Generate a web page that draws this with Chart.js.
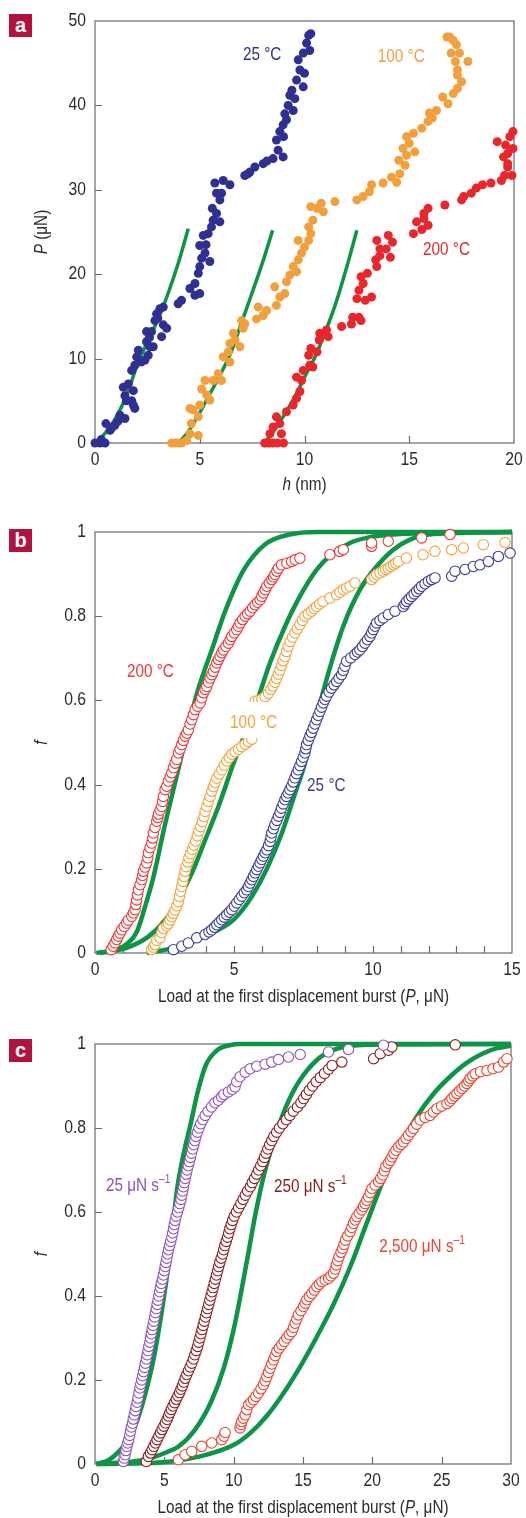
<!DOCTYPE html>
<html>
<head>
<meta charset="utf-8">
<script src="https://cdn.jsdelivr.net/npm/chart.js@4.4.0/dist/chart.umd.min.js"></script>
<style>
html, body { margin: 0; padding: 0; background: #fff; }
body { width: 526px; height: 1518px; position: relative; overflow: hidden; }
.panel { position: absolute; left: 0; width: 526px; }
.tag { position: absolute; left: 9px; width: 23px; height: 23px; background: #b3123f; color: #fff;
       font: bold 20px "Liberation Sans", "DejaVu Sans", sans-serif; text-align: center; line-height: 22px; }
</style>
</head>
<body>
<div class="panel" style="top:0;height:500px"><canvas id="chartA"></canvas></div>
<div class="panel" style="top:500px;height:510px"><canvas id="chartB"></canvas></div>
<div class="panel" style="top:1010px;height:508px"><canvas id="chartC"></canvas></div>
<div class="tag" style="top:14px">a</div>
<div class="tag" style="top:529px">b</div>
<div class="tag" style="top:1039px">c</div>

<script>
const FONT = '"Liberation Sans", Arial, sans-serif';
const SQUEEZE = 0.85;   // the figure uses a condensed face

// ---- panel a: load (P, uN) vs displacement (h, nm) ----
const a25 = [[0,0],[0.24,0],[0.48,0],[0.3,0.4],[0.52,2.3],[0.72,1.5],[0.8,1.8],[0.95,2.1],[1.1,2.6],[1.19,3.3],[1.43,2.9],
  [1.35,6.6],[1.59,7],[1.43,5.6],[1.5,5],[1.75,5],[1.83,4.5],[1.9,4.1],[1.83,6.2],[1.75,8.6],[1.9,9.2],[2.07,11],
  [1.99,10.2],[2.2,9.6],[2.38,9.8],[2.54,10.4],[2.46,12],[2.46,13.2],[2.6,12.5],[2.7,13.2],[2.78,11.4],[2.62,11.4],
  [2.86,14.5],[2.94,15.3],[3.0,14.8],[3.1,15.9],[3.26,16.1],[3.18,12.6],[3.26,14],[3.42,13.6],[3.97,16.5],[4.13,16.9],
  [4.53,18.3],[4.77,17.5],[5.0,17.7],[4.77,18.9],[4.93,20.1],[5.0,20.9],[5.09,21.9],[5.25,22.5],[5.48,21.5],[5.0,23.4],
  [5.3,23.5],[5.17,24.6],[5.4,24.8],[5.56,25.6],[5.64,26.4],[5.96,26.2],[5.8,27.2],[5.6,27.8],[5.96,28.8],[5.8,29.6],
  [6.04,29.6],[5.72,30.8],[6.12,31.1],[6.44,30.6],[7.15,31.7],[7.3,31.9],[7.39,32.1],[7.63,32.7],[8.03,33.1],[8.2,33.4],
  [8.5,33.7],[8.98,33.9],[8.74,34.7],[8.66,35.9],[9.0,36.3],[8.82,36.9],[8.98,37.7],[9.14,38.3],[9.06,39],[9.22,40],
  [9.46,39.4],[9.3,41.2],[9.4,41.8],[9.54,40.8],[9.62,43],[9.78,44.2],[9.94,42.2],[10.0,43.8],[9.7,45.4],[9.94,46.2],
  [10.1,47.4],[10.2,48.3],[10.3,48.5],[10.25,46.5]];
const a100 = [[3.66,0],[3.82,0],[4.0,0],[4.13,0],[4.37,0.3],[4.53,1.1],[4.93,0.9],[4.6,2.3],[4.69,3.9],[4.53,4.1],
  [5.0,4.5],[4.93,3.1],[5.09,6.4],[5.33,5.7],[5.48,5.1],[5.25,7.4],[5.64,7.4],[5.88,8.2],[6.04,7.4],[6.12,10.2],
  [6.44,9.6],[6.36,10.8],[6.44,11.8],[6.68,12.2],[6.92,11.4],[6.6,13],[7.07,13.6],[7.0,14.5],[7.15,14.1],[7.71,14.7],
  [8.03,15.1],[8.19,15.7],[7.79,16.1],[8.66,16.3],[8.82,17.3],[8.58,18.5],[9.06,17.7],[9.14,19.1],[9.3,19.9],
  [9.46,20.9],[9.7,21.7],[9.62,20.3],[9.86,22.5],[10.0,23.2],[9.7,24],[10.2,24],[10.3,24.8],[10.2,25.6],[10.4,26.4],
  [10.3,28],[10.6,27.8],[10.8,28.4],[10.9,27.4],[11.45,28.6],[12.5,28.8],[12.8,29.2],[13.1,29.8],[13.2,30.6],
  [13.75,30.8],[14.15,31.5],[14.4,30.9],[14.55,31.9],[14.8,32.9],[14.5,33.5],[14.87,34.1],[14.7,34.9],[15.0,35.5],
  [15.26,34.5],[14.87,36.3],[15.2,36.7],[15.6,37.3],[15.9,38.1],[16.1,38.5],[15.96,39.1],[16.3,39.4],[16.6,41],
  [16.85,40.2],[17.1,41.4],[17.3,42],[17.5,42.8],[17.3,43.6],[17.3,44.2],[17.2,45.2],[17.8,45.2],[17.4,46.2],
  [17.0,46.2],[17.25,47.2],[17.1,47.7],[16.8,48.1],[16.93,48.1]];
const a200 = [[8.1,0],[8.3,0],[8.5,0],[8.7,0],[9.0,0],[8.35,1.1],[8.5,1.9],[8.66,3.1],[8.82,2.3],[8.9,1.1],[9.14,3.7],
  [9.46,4.5],[9.62,5.3],[9.78,6.1],[9.62,7.8],[9.86,7.4],[9.94,8.6],[10.25,9.2],[10.4,9],[10.2,10.4],[10.3,11.2],
  [10.6,10.8],[10.7,12.2],[10.73,13],[11.05,13.4],[11.13,12.6],[11.77,13.8],[12.24,14.1],[12.3,14.9],[12.6,14.9],
  [12.7,14.5],[12.5,17.1],[12.6,18.1],[12.9,16.9],[13.2,17.3],[12.7,19.7],[13.0,20.1],[12.8,18.9],[13.45,20.9],
  [13.4,21.7],[13.6,22.2],[13.9,23],[13.6,23],[13.45,24],[14.1,22],[14.0,24.6],[14.2,23.8],[15.2,24.8],[15.35,26.2],
  [15.7,27.2],[15.9,27.8],[15.6,25.3],[15.9,25.8],[15.7,26.6],[16.7,28.2],[17.5,28.8],[17.6,29.2],[17.96,29.6],
  [18.2,30.2],[18.5,30.6],[18.9,30.8],[19.4,31.1],[19.55,31.7],[19.7,32.7],[19.9,31.7],[19.5,33.9],[19.7,34.3],
  [19.95,34.9],[19.2,35.7],[19.6,35.3],[19.8,36.3],[19.95,36.9],[19.7,33.1]];
const aFit25 = [[0,0],[0.5,1.2],[1,3],[1.5,5.6],[2,9.1],[2.5,12],[3,14.6],[3.5,17.8],[4,21.5],[4.45,25.4]];
const aFit100 = [[4.0,0],[4.5,1.5],[5,3.6],[5.5,5.9],[6,8.2],[6.5,10.8],[7,14.3],[7.5,17.8],[8,21.4],[8.48,25.2]];
const aFit200 = [[8.1,0],[8.5,1.3],[9,3.2],[9.5,5.3],[10,7.8],[10.5,10.2],[11,13.2],[11.5,16.6],[12,20.7],[12.5,25.2]];

// ---- panel b: cumulative fraction f vs first-burst load, three temperatures ----
const b200 = [[0.58,0.008],[0.65,0.016],[0.72,0.024],[0.78,0.032],[0.84,0.04],[0.9,0.047],[0.96,0.055],[1.05,0.063],
  [1.14,0.071],[1.2,0.078],[1.32,0.087],[1.38,0.095],[1.44,0.103],[1.47,0.115],[1.5,0.126],[1.53,0.138],[1.56,0.15],
  [1.62,0.162],[1.68,0.174],[1.71,0.184],[1.74,0.194],[1.8,0.204],[1.86,0.214],[1.9,0.226],[1.92,0.238],[1.98,0.25],
  [2.04,0.261],[2.08,0.273],[2.1,0.285],[2.16,0.298],[2.22,0.313],[2.26,0.322],[2.28,0.33],[2.34,0.339],[2.4,0.348],
  [2.43,0.36],[2.46,0.372],[2.52,0.388],[2.58,0.396],[2.64,0.408],[2.7,0.418],[2.76,0.428],[2.82,0.44],[2.88,0.451],
  [2.94,0.46],[3.0,0.475],[3.06,0.484],[3.12,0.495],[3.18,0.505],[3.24,0.515],[3.3,0.522],[3.36,0.53],[3.42,0.544],
  [3.48,0.554],[3.54,0.566],[3.6,0.578],[3.69,0.586],[3.78,0.594],[3.84,0.606],[3.9,0.618],[3.96,0.626],[4.02,0.633],
  [4.08,0.643],[4.14,0.653],[4.2,0.661],[4.26,0.669],[4.32,0.679],[4.38,0.689],[4.44,0.697],[4.5,0.705],[4.56,0.713],
  [4.62,0.72],[4.71,0.728],[4.8,0.736],[4.86,0.744],[4.92,0.752],[5.01,0.76],[5.1,0.768],[5.16,0.776],[5.22,0.784],
  [5.31,0.792],[5.4,0.8],[5.49,0.806],[5.58,0.812],[5.67,0.82],[5.76,0.827],[5.85,0.833],[5.94,0.839],[6.0,0.847],
  [6.06,0.855],[6.12,0.863],[6.18,0.871],[6.27,0.879],[6.36,0.887],[6.42,0.893],[6.47,0.899],[6.54,0.907],[6.6,0.914],
  [6.71,0.922],[6.9,0.926],[7.07,0.93],[7.2,0.934],[7.37,0.938],[8.45,0.946],[8.8,0.954],[8.93,0.958],[9.95,0.966],
  [9.95,0.974],[10.55,0.978],[11.75,0.986],[12.77,0.994]];
const b100 = [[2.04,0.008],[2.1,0.014],[2.16,0.02],[2.22,0.03],[2.34,0.036],[2.4,0.048],[2.46,0.058],[2.58,0.064],
  [2.64,0.07],[2.7,0.078],[2.76,0.086],[2.82,0.094],[2.88,0.102],[2.94,0.112],[3.0,0.122],[3.04,0.134],[3.08,0.146],
  [3.12,0.158],[3.16,0.17],[3.2,0.182],[3.24,0.194],[3.28,0.205],[3.34,0.216],[3.38,0.226],[3.44,0.236],[3.5,0.246],
  [3.56,0.256],[3.62,0.266],[3.68,0.278],[3.74,0.29],[3.8,0.3],[3.86,0.312],[3.92,0.324],[3.96,0.336],[4.02,0.348],
  [4.08,0.36],[4.14,0.372],[4.2,0.384],[4.26,0.395],[4.32,0.405],[4.38,0.415],[4.47,0.425],[4.56,0.435],[4.65,0.446],
  [4.74,0.456],[4.83,0.464],[4.92,0.472],[5.04,0.478],[5.16,0.484],[5.28,0.49],[5.4,0.496],[5.52,0.502],[5.64,0.508],
  [5.76,0.598],[5.88,0.6],[6.0,0.603],[6.12,0.609],[6.24,0.617],[6.32,0.626],[6.4,0.634],[6.47,0.643],[6.53,0.652],
  [6.59,0.662],[6.65,0.672],[6.71,0.683],[6.77,0.694],[6.83,0.704],[6.89,0.716],[6.95,0.728],[7.02,0.74],[7.1,0.75],
  [7.19,0.76],[7.28,0.77],[7.37,0.78],[7.46,0.79],[7.55,0.8],[7.67,0.806],[7.79,0.812],[7.88,0.818],[7.97,0.823],
  [8.08,0.829],[8.2,0.835],[8.45,0.843],[8.69,0.851],[8.81,0.857],[8.93,0.863],[9.05,0.867],[9.17,0.871],[9.35,0.879],
  [9.95,0.887],[10.04,0.893],[10.13,0.899],[10.25,0.903],[10.37,0.907],[10.46,0.911],[10.55,0.914],[10.64,0.918],
  [10.73,0.922],[10.82,0.926],[10.91,0.93],[11.2,0.938],[11.8,0.946],[12.23,0.954],[12.83,0.958],[13.25,0.962],
  [13.97,0.97],[14.75,0.975]];
const b25 = [[2.82,0.008],[3.12,0.016],[3.36,0.024],[3.66,0.036],[3.96,0.044],[4.1,0.05],[4.2,0.055],[4.3,0.061],
  [4.38,0.067],[4.47,0.073],[4.56,0.079],[4.65,0.085],[4.74,0.091],[4.83,0.097],[4.92,0.103],[5.01,0.111],[5.1,0.119],
  [5.19,0.127],[5.28,0.135],[5.37,0.143],[5.46,0.15],[5.52,0.158],[5.58,0.166],[5.64,0.174],[5.7,0.182],[5.76,0.19],
  [5.82,0.198],[5.88,0.206],[5.94,0.214],[6.0,0.222],[6.06,0.23],[6.12,0.238],[6.18,0.245],[6.24,0.255],[6.3,0.265],
  [6.33,0.275],[6.36,0.285],[6.42,0.295],[6.47,0.305],[6.54,0.315],[6.6,0.325],[6.66,0.334],[6.71,0.344],[6.77,0.354],
  [6.83,0.364],[6.89,0.372],[6.95,0.38],[7.01,0.388],[7.07,0.396],[7.13,0.406],[7.19,0.416],[7.25,0.426],[7.31,0.435],
  [7.37,0.445],[7.43,0.455],[7.49,0.465],[7.55,0.475],[7.58,0.485],[7.61,0.495],[7.67,0.505],[7.73,0.515],[7.79,0.524],
  [7.85,0.534],[7.91,0.544],[7.97,0.554],[8.03,0.564],[8.09,0.574],[8.15,0.584],[8.21,0.594],[8.27,0.602],[8.33,0.61],
  [8.42,0.62],[8.51,0.629],[8.6,0.637],[8.69,0.645],[8.78,0.653],[8.87,0.661],[8.93,0.671],[8.99,0.681],[9.05,0.693],
  [9.2,0.701],[9.35,0.709],[9.44,0.715],[9.53,0.72],[9.62,0.728],[9.71,0.736],[9.8,0.744],[9.89,0.752],[9.95,0.76],
  [10.01,0.768],[10.07,0.776],[10.13,0.784],[10.25,0.79],[10.37,0.796],[10.55,0.804],[10.79,0.812],[11.09,0.823],
  [11.15,0.829],[11.21,0.835],[11.3,0.841],[11.39,0.847],[11.48,0.853],[11.57,0.859],[11.66,0.865],[11.75,0.871],
  [11.87,0.877],[11.99,0.883],[12.11,0.887],[12.23,0.891],[12.83,0.895],[12.95,0.907],[13.31,0.911],[13.61,0.918],
  [13.85,0.922],[14.15,0.93],[14.51,0.942],[14.93,0.95]];
const bFit200 = [[0.05,0],[0.5,0.005],[1,0.015],[1.5,0.05],[1.8,0.11],[2.1,0.18],[2.5,0.3],[2.9,0.41],[3.3,0.52],
  [3.66,0.615],[4.2,0.72],[4.7,0.815],[5.35,0.91],[6.1,0.97],[7.0,0.994],[8,1],[15,1]];
const bFit100 = [[0.18,0],[1.08,0.011],[1.92,0.039],[2.52,0.078],[3.0,0.126],[3.48,0.189],[3.96,0.268],[4.44,0.348],
  [4.98,0.45],[5.45,0.53],[5.85,0.602],[6.3,0.69],[6.83,0.775],[7.37,0.847],[7.97,0.91],[8.57,0.95],[9.17,0.974],
  [9.77,0.986],[10.97,0.995],[15,1]];
const bFit25 = [[1.86,0],[2.76,0.011],[3.96,0.04],[5.0,0.08],[5.65,0.135],[6.25,0.21],[6.75,0.29],[7.2,0.38],
  [7.55,0.45],[7.85,0.53],[8.33,0.65],[8.93,0.776],[9.53,0.863],[10.13,0.918],[10.73,0.958],[11.33,0.982],
  [12.17,0.995],[15,1]];

// ---- panel c: cumulative fraction f vs first-burst load, three loading rates ----
const c25 = [[2.04,0.006],[2.1,0.014],[2.17,0.022],[2.23,0.032],[2.3,0.042],[2.36,0.05],[2.43,0.058],[2.5,0.068],
  [2.56,0.078],[2.62,0.088],[2.7,0.097],[2.76,0.107],[2.83,0.117],[2.9,0.127],[2.96,0.137],[3.03,0.147],[3.1,0.157],
  [3.17,0.169],[3.24,0.181],[3.3,0.19],[3.37,0.2],[3.44,0.21],[3.5,0.22],[3.57,0.23],[3.63,0.24],[3.7,0.25],
  [3.76,0.26],[3.82,0.27],[3.88,0.28],[3.95,0.29],[4.0,0.3],[4.06,0.31],[4.12,0.32],[4.18,0.33],[4.24,0.34],
  [4.3,0.35],[4.36,0.36],[4.42,0.37],[4.48,0.38],[4.54,0.39],[4.6,0.4],[4.66,0.41],[4.72,0.42],[4.78,0.43],
  [4.86,0.44],[4.93,0.45],[5.0,0.46],[5.06,0.47],[5.12,0.48],[5.18,0.49],[5.24,0.5],[5.3,0.51],[5.38,0.52],
  [5.46,0.53],[5.54,0.54],[5.6,0.55],[5.66,0.56],[5.72,0.57],[5.78,0.58],[5.85,0.59],[5.95,0.6],[6.04,0.61],
  [6.12,0.62],[6.2,0.63],[6.26,0.64],[6.32,0.65],[6.38,0.66],[6.44,0.67],[6.5,0.68],[6.57,0.69],[6.64,0.7],
  [6.72,0.71],[6.8,0.72],[6.88,0.73],[6.96,0.74],[7.04,0.75],[7.12,0.76],[7.2,0.77],[7.28,0.78],[7.38,0.79],
  [7.5,0.8],[7.62,0.81],[7.78,0.82],[7.95,0.83],[8.15,0.84],[8.4,0.85],[8.65,0.86],[8.9,0.866],[9.13,0.874],
  [9.3,0.88],[9.62,0.886],[9.9,0.892],[10.1,0.898],[10.22,0.91],[10.46,0.922],[10.83,0.933],[11.19,0.941],
  [11.67,0.947],[12.27,0.952],[12.75,0.957],[13.23,0.963],[13.95,0.969],[14.8,0.975],[16.84,0.981],[18.28,0.987],
  [20.8,0.997]];
const c250 = [[3.7,0.006],[3.85,0.018],[4.0,0.026],[4.12,0.034],[4.24,0.042],[4.36,0.05],[4.48,0.058],[4.6,0.066],
  [4.72,0.074],[4.84,0.082],[4.96,0.09],[5.08,0.098],[5.2,0.106],[5.3,0.114],[5.4,0.122],[5.5,0.13],[5.62,0.138],
  [5.74,0.146],[5.86,0.154],[5.98,0.162],[6.1,0.17],[6.2,0.178],[6.3,0.186],[6.4,0.195],[6.5,0.204],[6.62,0.213],
  [6.74,0.222],[6.86,0.231],[6.98,0.24],[7.1,0.25],[7.2,0.26],[7.3,0.27],[7.4,0.28],[7.48,0.29],[7.56,0.3],
  [7.64,0.31],[7.72,0.32],[7.8,0.33],[7.88,0.34],[7.96,0.35],[8.04,0.36],[8.12,0.37],[8.2,0.38],[8.28,0.39],
  [8.36,0.4],[8.44,0.41],[8.52,0.42],[8.6,0.43],[8.68,0.44],[8.76,0.45],[8.84,0.46],[8.92,0.47],[9.0,0.48],
  [9.1,0.49],[9.2,0.5],[9.28,0.51],[9.36,0.52],[9.46,0.53],[9.56,0.54],[9.64,0.55],[9.72,0.56],[9.82,0.57],
  [9.92,0.58],[10.04,0.59],[10.2,0.6],[10.36,0.61],[10.52,0.62],[10.68,0.63],[10.84,0.64],[11.0,0.65],[11.2,0.66],
  [11.34,0.67],[11.5,0.68],[11.66,0.69],[11.8,0.7],[11.95,0.71],[12.1,0.72],[12.22,0.73],[12.34,0.74],[12.46,0.75],
  [12.6,0.76],[12.75,0.77],[12.9,0.78],[13.1,0.79],[13.3,0.8],[13.55,0.81],[13.8,0.82],[14.05,0.83],[14.3,0.84],
  [14.6,0.85],[14.85,0.86],[15.05,0.87],[15.25,0.88],[15.45,0.89],[15.7,0.9],[15.95,0.91],[16.25,0.92],[16.55,0.93],
  [16.85,0.94],[17.1,0.949],[17.8,0.957],[20.09,0.965],[20.57,0.977],[21.17,0.985],[21.41,0.993],[25.98,0.998]];
const c2500 = [[6.01,0.01],[6.5,0.022],[6.98,0.03],[7.7,0.042],[8.42,0.05],[9.14,0.058],[9.3,0.066],[9.38,0.075],
  [10.46,0.086],[10.52,0.094],[10.58,0.101],[10.7,0.109],[10.83,0.117],[10.95,0.129],[11.07,0.141],[11.25,0.147],
  [11.43,0.153],[11.6,0.161],[11.79,0.169],[11.97,0.179],[12.15,0.189],[12.27,0.198],[12.39,0.208],[12.51,0.218],
  [12.63,0.228],[12.75,0.238],[12.87,0.248],[12.99,0.258],[13.11,0.268],[13.29,0.276],[13.47,0.284],[13.65,0.292],
  [13.83,0.3],[14.01,0.308],[14.19,0.315],[14.31,0.325],[14.43,0.335],[14.55,0.345],[14.67,0.355],[14.85,0.365],
  [15.03,0.375],[15.16,0.383],[15.28,0.391],[15.46,0.399],[15.64,0.406],[15.82,0.414],[16.0,0.422],[16.18,0.428],
  [16.36,0.434],[16.6,0.438],[16.84,0.442],[17.02,0.448],[17.2,0.454],[17.32,0.464],[17.4,0.474],[17.5,0.484],
  [17.6,0.494],[17.74,0.504],[17.86,0.513],[17.96,0.523],[18.06,0.533],[18.22,0.543],[18.4,0.553],[18.52,0.563],
  [18.64,0.573],[18.76,0.581],[18.88,0.589],[19.06,0.597],[19.24,0.605],[19.36,0.613],[19.48,0.62],[19.6,0.628],
  [19.73,0.636],[19.85,0.646],[19.97,0.656],[20.2,0.664],[20.45,0.672],[20.6,0.68],[20.75,0.688],[20.87,0.698],
  [20.97,0.708],[21.15,0.716],[21.3,0.723],[21.42,0.731],[21.55,0.739],[21.7,0.747],[21.89,0.755],[22.07,0.761],
  [22.25,0.767],[22.43,0.775],[22.61,0.783],[22.8,0.791],[22.97,0.799],[23.2,0.809],[23.45,0.819],[23.8,0.825],
  [24.17,0.83],[24.4,0.838],[24.66,0.846],[25.0,0.852],[25.38,0.858],[25.6,0.864],[25.74,0.87],[25.92,0.876],
  [26.1,0.882],[26.28,0.888],[26.46,0.894],[26.64,0.9],[26.82,0.906],[26.95,0.912],[27.06,0.918],[27.24,0.924],
  [27.42,0.929],[27.8,0.934],[28.27,0.937],[28.7,0.941],[29.1,0.945],[29.47,0.957],[29.71,0.965]];
const cFit25 = [[0.1,0],[1,0.01],[2,0.04],[2.7,0.075],[3.4,0.14],[4.1,0.23],[4.8,0.36],[5.4,0.5],[5.9,0.65],
  [6.4,0.74],[6.9,0.81],[7.4,0.885],[8.0,0.95],[8.8,0.985],[9.7,0.997],[10.5,1],[30,1]];
const cFit250 = [[0.1,0],[2.77,0.006],[3.6,0.01],[5.17,0.028],[6.0,0.041],[7.2,0.081],[8.4,0.15],[9.3,0.23],
  [10.0,0.32],[10.6,0.42],[11.1,0.51],[11.6,0.6],[12.2,0.69],[12.9,0.77],[13.7,0.845],[14.7,0.91],[16.0,0.962],
  [17.2,0.986],[19.6,0.998],[30,1]];
const cFit2500 = [[0.1,0],[5.17,0.005],[7.58,0.018],[9.98,0.045],[11.17,0.073],[12.4,0.115],[13.58,0.168],
  [14.8,0.232],[16.0,0.303],[17.2,0.38],[18.4,0.469],[19.6,0.574],[20.8,0.676],[22.0,0.758],[23.2,0.827],
  [24.4,0.881],[25.6,0.922],[26.8,0.955],[28,0.978],[29,0.99],[30,0.996]];

const GREEN = '#0c9447';
const AXIS = '#6b6b6b';
const TEXT = '#2b2b2b';

const pts = arr => arr.map(([x, y]) => ({ x, y }));

function dots(arr, color) {
  return { data: pts(arr), backgroundColor: color, borderColor: color, pointRadius: 4.5, borderWidth: 0 };
}
function rings(arr, color) {
  return { data: pts(arr), backgroundColor: '#ffffff', borderColor: color, pointRadius: 5.2, pointBorderWidth: 1.1 };
}
function fit(arr, width) {
  return { data: pts(arr), showLine: true, borderColor: GREEN, borderWidth: width, pointRadius: 0,
           cubicInterpolationMode: 'monotone', borderCapStyle: 'butt' };
}

function fontFor(p, size) {
  return (p.it ? 'italic ' : '') + (p.sup ? 12 : size) + 'px ' + FONT;
}
// draws a run of text pieces, horizontally condensed
function drawParts(ctx, parts, x, y, align, size) {
  size = size || 18;
  let total = 0;
  const widths = parts.map(p => { ctx.font = fontFor(p, size); const w = ctx.measureText(p.t).width * SQUEEZE; total += w; return w; });
  let cx = align === 'center' ? x - total / 2 : align === 'right' ? x - total : x;
  parts.forEach((p, i) => {
    ctx.font = fontFor(p, size);
    ctx.save();
    ctx.translate(cx, p.sup ? y - 6 : y);
    ctx.scale(SQUEEZE, 1);
    ctx.fillText(p.t, 0, 0);
    ctx.restore();
    cx += widths[i];
  });
  return total;
}
const fmt = v => String(Math.round(v * 10) / 10);

// frame, inward ticks, tick labels, notes and axis titles
const decor = {
  id: 'decor',
  beforeDatasetsDraw(chart) {
    const { ctx, chartArea: ca, scales: { x, y } } = chart;
    ctx.save();
    ctx.strokeStyle = AXIS;
    ctx.lineWidth = 1.2;
    ctx.strokeRect(ca.left, ca.top, ca.right - ca.left, ca.bottom - ca.top);
    ctx.beginPath();
    x.ticks.forEach(t => {
      if (t.value <= x.min || t.value >= x.max) return;
      const px = Math.round(x.getPixelForValue(t.value)) + 0.5;
      ctx.moveTo(px, ca.bottom); ctx.lineTo(px, ca.bottom - 7);
    });
    y.ticks.forEach(t => {
      if (t.value <= y.min || t.value >= y.max) return;
      const py = Math.round(y.getPixelForValue(t.value)) + 0.5;
      ctx.moveTo(ca.left, py); ctx.lineTo(ca.left + 7, py);
    });
    ctx.stroke();
    ctx.restore();
  },
  afterDraw(chart, args, opts) {
    const { ctx, chartArea: ca, scales: { x, y } } = chart;
    ctx.save();
    ctx.textBaseline = 'middle';
    ctx.fillStyle = TEXT;
    x.ticks.forEach(t => {
      if (Math.abs(t.value / opts.major - Math.round(t.value / opts.major)) > 1e-6) return;
      drawParts(ctx, [{ t: fmt(t.value) }], x.getPixelForValue(t.value), ca.bottom + 17, 'center', 18.5);
    });
    y.ticks.forEach(t => {
      drawParts(ctx, [{ t: fmt(t.value) }], ca.left - 9, y.getPixelForValue(t.value), 'right', 18.5);
    });
    opts.notes.forEach(n => {
      const px = x.getPixelForValue(n.x), py = y.getPixelForValue(n.y);
      if (n.box) {
        const bx0 = x.getPixelForValue(n.box[0]), by0 = y.getPixelForValue(n.box[1]);
        const bx1 = x.getPixelForValue(n.box[2]), by1 = y.getPixelForValue(n.box[3]);
        ctx.fillStyle = '#ffffff';
        ctx.fillRect(bx0, by0, bx1 - bx0, by1 - by0);
      }
      ctx.fillStyle = n.color;
      drawParts(ctx, n.parts, px, py, 'left');
    });
    ctx.fillStyle = TEXT;
    drawParts(ctx, opts.xTitle, (ca.left + ca.right) / 2, ca.bottom + opts.xGap, 'center');
    ctx.translate(ca.left - 53, (ca.top + ca.bottom) / 2);
    ctx.rotate(-Math.PI / 2);
    drawParts(ctx, opts.yTitle, 0, 0, 'center');
    ctx.restore();
  }
};

Chart.defaults.font.family = FONT;
Chart.defaults.font.size = 18;
Chart.defaults.color = TEXT;

function makeChart(id, datasets, cfg) {
  return new Chart(document.getElementById(id), {
    type: 'scatter',
    data: { datasets },
    plugins: [decor],
    options: {
      responsive: true,
      maintainAspectRatio: false,
      animation: false,
      clip: false,
      layout: { padding: { left: 0, top: cfg.top, right: cfg.right, bottom: 0 } },
      plugins: {
        legend: { display: false },
        tooltip: { enabled: false },
        decor: { notes: cfg.notes, xTitle: cfg.xTitle, yTitle: cfg.yTitle, xGap: cfg.xGap, major: cfg.x[3] }
      },
      scales: {
        x: {
          type: 'linear', min: cfg.x[0], max: cfg.x[1],
          grid: { display: false, drawTicks: false }, border: { display: false },
          ticks: { stepSize: cfg.x[2], autoSkip: false, display: false },
          afterFit: s => { s.height = cfg.xh; }
        },
        y: {
          type: 'linear', min: cfg.y[0], max: cfg.y[1],
          grid: { display: false, drawTicks: false }, border: { display: false },
          ticks: { stepSize: cfg.y[2], display: false },
          afterFit: s => { s.width = 95; }
        }
      }
    }
  });
}

const loadTitle = [{ t: 'Load at the first displacement burst (' }, { t: 'P', it: true }, { t: ', μN)' }];

makeChart('chartA', [
  dots(a25, '#2e3192'), dots(a100, '#f2a03d'), dots(a200, '#e8262b'),
  fit(aFit25, 3.5), fit(aFit100, 3.5), fit(aFit200, 3.5)
], {
  top: 21, right: 12, xh: 57, xGap: 42,
  x: [0, 20, 5, 5], y: [0, 50, 10],
  xTitle: [{ t: 'h', it: true }, { t: ' (nm)' }],
  yTitle: [{ t: 'P', it: true }, { t: ' (μN)' }],
  notes: [
    { parts: [{ t: '25 °C' }], x: 7.06, y: 46, color: '#2e3192' },
    { parts: [{ t: '100 °C' }], x: 13.5, y: 45.7, color: '#f2a03d' },
    { parts: [{ t: '200 °C' }], x: 15.66, y: 22.9, color: '#e8262b' }
  ]
});

makeChart('chartB', [
  rings(b200, '#ee3636'), rings(b100, '#f5a23c'), rings(b25, '#3a3d99'),
  fit(bFit200, 4.5), fit(bFit100, 4.5), fit(bFit25, 4.5)
], {
  top: 32, right: 14, xh: 57, xGap: 44,
  x: [0, 15, 1, 5], y: [0, 1, 0.2],
  xTitle: loadTitle,
  yTitle: [{ t: 'f', it: true }],
  notes: [
    { parts: [{ t: '200 °C' }], x: 1.15, y: 0.667, color: '#ee3636' },
    { parts: [{ t: '100 °C' }], x: 4.86, y: 0.546, color: '#f5a23c', box: [4.75, 0.596, 6.85, 0.51] },
    { parts: [{ t: '25 °C' }], x: 7.63, y: 0.397, color: '#3a3d99' }
  ]
});

makeChart('chartC', [
  rings(c25, '#9152bb'), rings(c250, '#8c1d1d'), rings(c2500, '#ec4530'),
  fit(cFit25, 4.5), fit(cFit250, 4.5), fit(cFit2500, 4.5)
], {
  top: 34, right: 15, xh: 54, xGap: 44,
  x: [0, 30, 5, 5], y: [0, 1, 0.2],
  xTitle: loadTitle,
  yTitle: [{ t: 'f', it: true }],
  notes: [
    { parts: [{ t: '25 μN s' }, { t: '–1', sup: true }], x: 0.79, y: 0.662, color: '#9152bb' },
    { parts: [{ t: '250 μN s' }, { t: '–1', sup: true }], x: 12.9, y: 0.66, color: '#8c1d1d' },
    { parts: [{ t: '2,500 μN s' }, { t: '–1', sup: true }], x: 20.5, y: 0.517, color: '#ec4530' }
  ]
});
</script>
</body>
</html>
